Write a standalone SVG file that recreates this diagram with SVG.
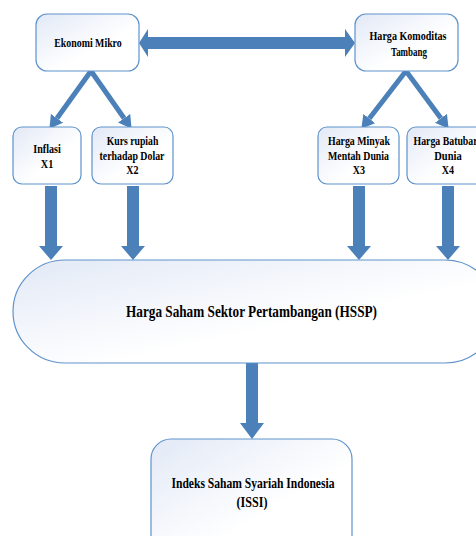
<svg xmlns="http://www.w3.org/2000/svg" width="476" height="536" viewBox="0 0 476 536">
<defs>
<linearGradient id="g" x1="0" y1="0" x2="1" y2="1">
<stop offset="0" stop-color="#e2e9f6"/>
<stop offset="0.6" stop-color="#ffffff"/>
</linearGradient>
<marker id="ah" markerUnits="userSpaceOnUse" markerWidth="13" markerHeight="15" refX="0" refY="7.5" orient="auto">
<path d="M0,0 L13,7.5 L0,15 z" fill="#4b80b9"/>
</marker>
<style>
.box{fill:url(#g);stroke:#5e93cc;stroke-width:1.2}
.t{font-family:'Liberation Serif','Times New Roman',serif;font-weight:bold;font-size:11.5px;fill:#000;text-anchor:middle}
.arr{fill:#4b80b9}
.ln{stroke:#4b80b9;stroke-width:5;fill:none}
</style>
</defs>
<rect width="476" height="536" fill="#fff"/>
<g id="connectors">
<polygon class="arr" points="139,43 148,29 148,37 345,37 345,29 355,43 345,57 345,49 148,49 148,57"/>
<line class="ln" x1="91" y1="71" x2="57" y2="118.3" marker-end="url(#ah)"/>
<line class="ln" x1="91" y1="71" x2="124.1" y2="118.2" marker-end="url(#ah)"/>
<line class="ln" x1="406" y1="71" x2="369.3" y2="118.5" marker-end="url(#ah)"/>
<line class="ln" x1="406" y1="71" x2="440.9" y2="118.3" marker-end="url(#ah)"/>
<polygon class="arr" points="45,186 57,186 57,246 63,246 51,260 39,246 45,246"/>
<polygon class="arr" points="127,186 139,186 139,246 145,246 133,260 121,246 127,246"/>
<polygon class="arr" points="353,186 365,186 365,246 371,246 359,260 347,246 353,246"/>
<polygon class="arr" points="442,186 454,186 454,246 460,246 448,260 436,246 442,246"/>
<polygon class="arr" points="246,363 258,363 258,423 264,423 252,439 240,423 246,423"/>
</g>
<g id="ekonomi">
<rect class="box" x="36" y="14" width="103" height="57" rx="11"/>
<text class="t" x="88" y="46.5" textLength="67.5" lengthAdjust="spacingAndGlyphs">Ekonomi Mikro</text>
</g>
<g id="komoditas">
<rect class="box" x="355" y="14" width="103" height="57" rx="11"/>
<text class="t" x="408" y="39.5" textLength="77" lengthAdjust="spacingAndGlyphs">Harga Komoditas</text>
<text class="t" x="409" y="55.5" textLength="36" lengthAdjust="spacingAndGlyphs">Tambang</text>
</g>
<g id="x1">
<rect class="box" x="13" y="127" width="68" height="57" rx="9"/>
<text class="t" x="47" y="152.5" textLength="27.5" lengthAdjust="spacingAndGlyphs">Inflasi</text>
<text class="t" x="47" y="168" textLength="12.5" lengthAdjust="spacingAndGlyphs">X1</text>
</g>
<g id="x2">
<rect class="box" x="92" y="127" width="81" height="57" rx="9"/>
<text class="t" x="132.5" y="145" textLength="51.7" lengthAdjust="spacingAndGlyphs">Kurs rupiah</text>
<text class="t" x="132" y="159.5" textLength="65" lengthAdjust="spacingAndGlyphs">terhadap Dolar</text>
<text class="t" x="132.5" y="174.3" textLength="12.3" lengthAdjust="spacingAndGlyphs">X2</text>
</g>
<g id="x3">
<rect class="box" x="318" y="127" width="81" height="57" rx="9"/>
<text class="t" x="359" y="145" textLength="62" lengthAdjust="spacingAndGlyphs">Harga Minyak</text>
<text class="t" x="358.5" y="159.5" textLength="61" lengthAdjust="spacingAndGlyphs">Mentah Dunia</text>
<text class="t" x="359" y="174.3" textLength="12.3" lengthAdjust="spacingAndGlyphs">X3</text>
</g>
<g id="x4">
<rect class="box" x="407" y="127" width="82" height="57" rx="9"/>
<text class="t" x="448" y="145" textLength="69" lengthAdjust="spacingAndGlyphs">Harga Batubara</text>
<text class="t" x="448" y="159.5" textLength="27.4" lengthAdjust="spacingAndGlyphs">Dunia</text>
<text class="t" x="448" y="174.3" textLength="12.3" lengthAdjust="spacingAndGlyphs">X4</text>
</g>
<g id="hssp">
<rect class="box" x="13" y="260" width="484" height="103" rx="52"/>
<text class="t" x="251.5" y="317" style="font-size:16px" textLength="251" lengthAdjust="spacingAndGlyphs">Harga Saham Sektor Pertambangan (HSSP)</text>
</g>
<g id="issi">
<rect class="box" x="151" y="439" width="201" height="120" rx="20"/>
<text class="t" x="253" y="487.5" style="font-size:14px" textLength="163" lengthAdjust="spacingAndGlyphs">Indeks Saham Syariah Indonesia</text>
<text class="t" x="252" y="506.5" style="font-size:14px" textLength="31" lengthAdjust="spacingAndGlyphs">(ISSI)</text>
</g>
</svg>
